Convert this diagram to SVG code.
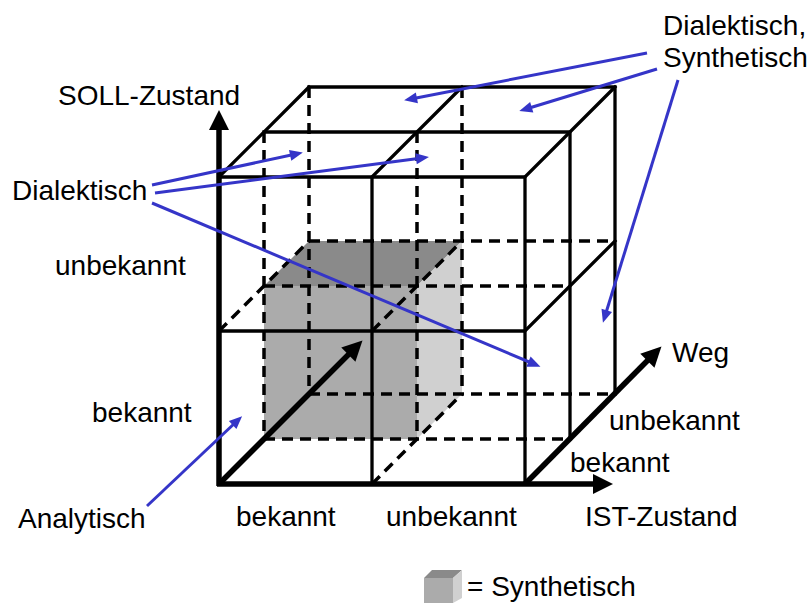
<svg xmlns="http://www.w3.org/2000/svg" width="811" height="603" viewBox="0 0 811 603">
<style>
text{font-family:"Liberation Sans",Arial,sans-serif;font-size:28px;fill:#000}
.s{stroke:#000;stroke-width:3.3;fill:none;stroke-linecap:square}
.d{stroke:#000;stroke-width:3.5;fill:none;stroke-dasharray:11 7}
.ax{stroke:#000;stroke-width:5.5;fill:none}
.bl{stroke:#3535c8;stroke-width:3;fill:none;marker-end:url(#bh)}
</style>
<defs>
<marker id="ah" markerUnits="userSpaceOnUse" markerWidth="20" markerHeight="20" refX="8" refY="10" orient="auto" overflow="visible">
<path d="M0,0 L20,10 L0,20 z" fill="#000"/>
</marker>
<marker id="bh" markerUnits="userSpaceOnUse" markerWidth="13" markerHeight="11" refX="6" refY="5.5" orient="auto" overflow="visible">
<path d="M0,0 L13,5.5 L0,11 z" fill="#3535c8"/>
</marker>
</defs>
<rect width="811" height="603" fill="#fff"/>
<g id="synthetic-cell">
<polygon points="264,286 309,241 462,241 417,286" fill="#8a8a8a"/>
<rect x="264" y="286" width="153" height="153" fill="#ababab"/>
<polygon points="417,286 462,241 462,394 417,439" fill="#d0d0d0"/>
</g>
<g id="cube">
<path class="d" d="M264,132 V439 M309,87 V394 M417,132 V439 M462,87 V394"/>
<path class="d" d="M309,241 H615 M264,286 H570 M309,394 H615 M264,439 H570"/>
<path class="d" d="M219,331 L309,241 M372,331 L462,241 M372,484 L462,394"/>
<path class="s" d="M219,177 H525 V484 M372,177 V484 M219,331 H525"/>
<path class="s" d="M264,132 H570 V439 M309,87 H615 V394"/>
<path class="s" d="M219,177 L309,87 M372,177 L462,87 M525,177 L615,87 M525,331 L615,241"/>
</g>
<g id="axes">
<line class="ax" x1="219" y1="486" x2="219" y2="122" marker-end="url(#ah)"/>
<line class="ax" x1="217" y1="484" x2="601" y2="484" marker-end="url(#ah)"/>
<line class="ax" x1="525" y1="484" x2="653" y2="355" marker-end="url(#ah)"/>
<line class="ax" x1="219" y1="484" x2="354" y2="349" marker-end="url(#ah)"/>
</g>
<g id="labels">
<text x="58" y="105">SOLL-Zustand</text>
<text x="663" y="35">Dialektisch,</text>
<text x="663" y="67">Synthetisch</text>
<text x="12" y="200">Dialektisch</text>
<text x="55" y="275">unbekannt</text>
<text x="92" y="422">bekannt</text>
<text x="18" y="528">Analytisch</text>
<text x="236" y="526">bekannt</text>
<text x="386" y="526">unbekannt</text>
<text x="585" y="526">IST-Zustand</text>
<text x="672" y="362">Weg</text>
<text x="609" y="430">unbekannt</text>
<text x="570" y="472">bekannt</text>
</g>
<g id="legend">
<polygon points="424,578 432,570 462,570 453,578" fill="#8a8a8a"/>
<rect x="424" y="578" width="29" height="25" fill="#ababab"/>
<polygon points="453,578 462,570 462,598 453,603" fill="#d0d0d0"/>
<text x="467" y="596">= Synthetisch</text>
</g>
<g id="connectors">
<line class="bl" x1="647" y1="53" x2="411" y2="99"/>
<line class="bl" x1="657" y1="69" x2="526" y2="109"/>
<line class="bl" x1="678" y1="80" x2="605" y2="316"/>
<line class="bl" x1="152" y1="185" x2="296" y2="154"/>
<line class="bl" x1="155" y1="193" x2="422" y2="158"/>
<line class="bl" x1="152" y1="203" x2="534" y2="364"/>
<line class="bl" x1="147" y1="506" x2="237" y2="421"/>
</g>
</svg>
